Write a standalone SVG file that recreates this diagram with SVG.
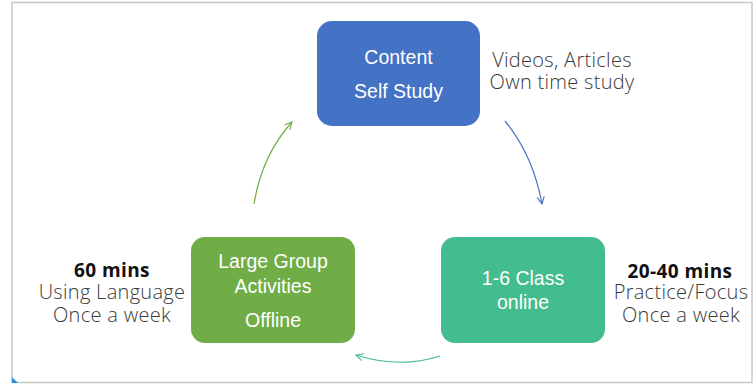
<svg xmlns="http://www.w3.org/2000/svg" width="756" height="384" viewBox="0 0 756 384">
<style>
.box-text{font-family:"Liberation Sans",Arial,sans-serif;font-size:19.5px;fill:#ffffff;text-anchor:middle}
.side{font-family:"Open Sans","Lato",sans-serif;font-weight:300;font-size:20px;letter-spacing:0.3px;fill:#3a3a3a;text-anchor:middle}
.side-b{font-family:"Open Sans","Lato",sans-serif;font-weight:700;font-size:19px;letter-spacing:0.4px;fill:#111111;text-anchor:middle}
.conn{fill:none;stroke-width:1.2}
</style>
<defs>
<marker id="ab" viewBox="0 0 10 10" refX="9" refY="5" markerWidth="9" markerHeight="9" markerUnits="userSpaceOnUse" orient="auto"><path d="M1,1 L9,5 L1,9" fill="none" stroke="#4472C4" stroke-width="1.2"/></marker>
<marker id="ag" viewBox="0 0 10 10" refX="9" refY="5" markerWidth="9" markerHeight="9" markerUnits="userSpaceOnUse" orient="auto"><path d="M1,1 L9,5 L1,9" fill="none" stroke="#70AD47" stroke-width="1.2"/></marker>
<marker id="at" viewBox="0 0 10 10" refX="9" refY="5" markerWidth="9" markerHeight="9" markerUnits="userSpaceOnUse" orient="auto"><path d="M1,1 L9,5 L1,9" fill="none" stroke="#43BC8E" stroke-width="1.2"/></marker>
</defs>
<rect x="0" y="0" width="756" height="384" fill="#ffffff"/>
<rect x="12" y="2.5" width="740" height="380" fill="none" stroke="#c8c8c8" stroke-width="1.5"/>
<polygon points="12,377 12,383 18,383" fill="#2a8fd6"/>
<g id="connectors">
<path class="conn" stroke="#4472C4" d="M505,121 Q533,155 542,204" marker-end="url(#ab)"/>
<path class="conn" stroke="#43BC8E" d="M440,356 Q400,369 356,355" marker-end="url(#at)"/>
<path class="conn" stroke="#70AD47" d="M254,204 Q262,155 292,122" marker-end="url(#ag)"/>
</g>
<g id="content">
<rect x="317" y="21" width="163" height="105" rx="15" fill="#4472C4"/>
<text class="box-text" x="398.5" y="64">Content</text>
<text class="box-text" x="398.5" y="98">Self Study</text>
<text class="side" x="562" y="67">Videos, Articles</text>
<text class="side" x="562" y="89">Own time study</text>
</g>
<g id="large-group">
<rect x="191" y="237" width="164" height="106" rx="14" fill="#70AD47"/>
<text class="box-text" x="273" y="268">Large Group</text>
<text class="box-text" x="273" y="293">Activities</text>
<text class="box-text" x="273" y="327">Offline</text>
<text class="side-b" x="112" y="277">60 mins</text>
<text class="side" x="112" y="299">Using Language</text>
<text class="side" x="112" y="322">Once a week</text>
</g>
<g id="class-online">
<rect x="441" y="237" width="164" height="106" rx="14" fill="#43BC8E"/>
<text class="box-text" x="523" y="285">1-6 Class</text>
<text class="box-text" x="523" y="309">online</text>
<text class="side-b" x="680" y="278">20-40 mins</text>
<text class="side" x="681" y="299">Practice/Focus</text>
<text class="side" x="681" y="322">Once a week</text>
</g>
</svg>
